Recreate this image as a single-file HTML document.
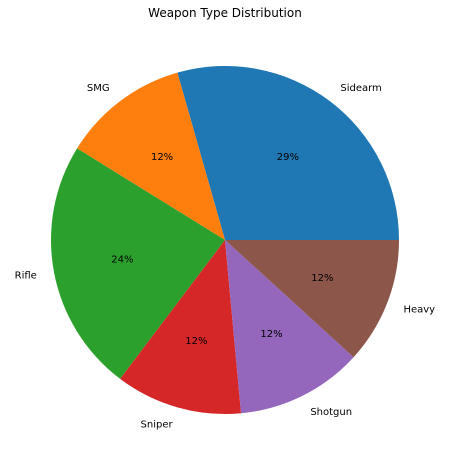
<!DOCTYPE html>
<html><head><meta charset="utf-8"><style>
html,body{margin:0;padding:0;background:#fff;}
svg{display:block;font-family:"DejaVu Sans","Liberation Sans",sans-serif;}
</style></head><body>
<svg id="chart" width="449" height="465" viewBox="0 0 449 465">
<text x="225" y="17" text-anchor="middle" font-size="12">Weapon Type Distribution</text>
<g id="slices"></g>
</svg>
<script>
const categories = ["Sidearm","SMG","Rifle","Sniper","Shotgun","Heavy"];
const counts = [5,2,4,2,2,2];
const colors = ["#1f77b4","#ff7f0e","#2ca02c","#d62728","#9467bd","#8c564b"];
const cx=225, cy=240, r=174;
const g=document.getElementById('slices');
const ns="http://www.w3.org/2000/svg";
const total=counts.reduce((a,b)=>a+b,0);
let a0=0;
function pt(a,rr){return [cx+rr*Math.cos(a), cy-rr*Math.sin(a)];}
counts.forEach((v,i)=>{
  const a1=a0+v/total*2*Math.PI;
  const [x0,y0]=pt(a0,r),[x1,y1]=pt(a1,r);
  const large=(a1-a0)>Math.PI?1:0;
  const p=document.createElementNS(ns,'path');
  p.setAttribute('d',`M${cx},${cy} L${x0},${y0} A${r},${r} 0 ${large} 0 ${x1},${y1} Z`);
  p.setAttribute('fill',colors[i]);
  
  
  g.appendChild(p);
  const am=(a0+a1)/2;
  const [lx,ly]=pt(am,r*1.1);
  const t=document.createElementNS(ns,'text');
  t.setAttribute('x',lx);t.setAttribute('y',ly+3.5);
  t.setAttribute('font-size','10');
  t.setAttribute('text-anchor',Math.cos(am)<0?'end':'start');
  t.textContent=categories[i];
  
  
  g.appendChild(t);
  const [px,py]=pt(am,r*0.6);
  const q=document.createElementNS(ns,'text');
  q.setAttribute('x',px);q.setAttribute('y',py+3.5);
  q.setAttribute('font-size','10');
  q.setAttribute('text-anchor','middle');
  q.textContent=Math.round(v/total*100)+'%';
  
  
  g.appendChild(q);
  a0=a1;
});
</script>
</body></html>
